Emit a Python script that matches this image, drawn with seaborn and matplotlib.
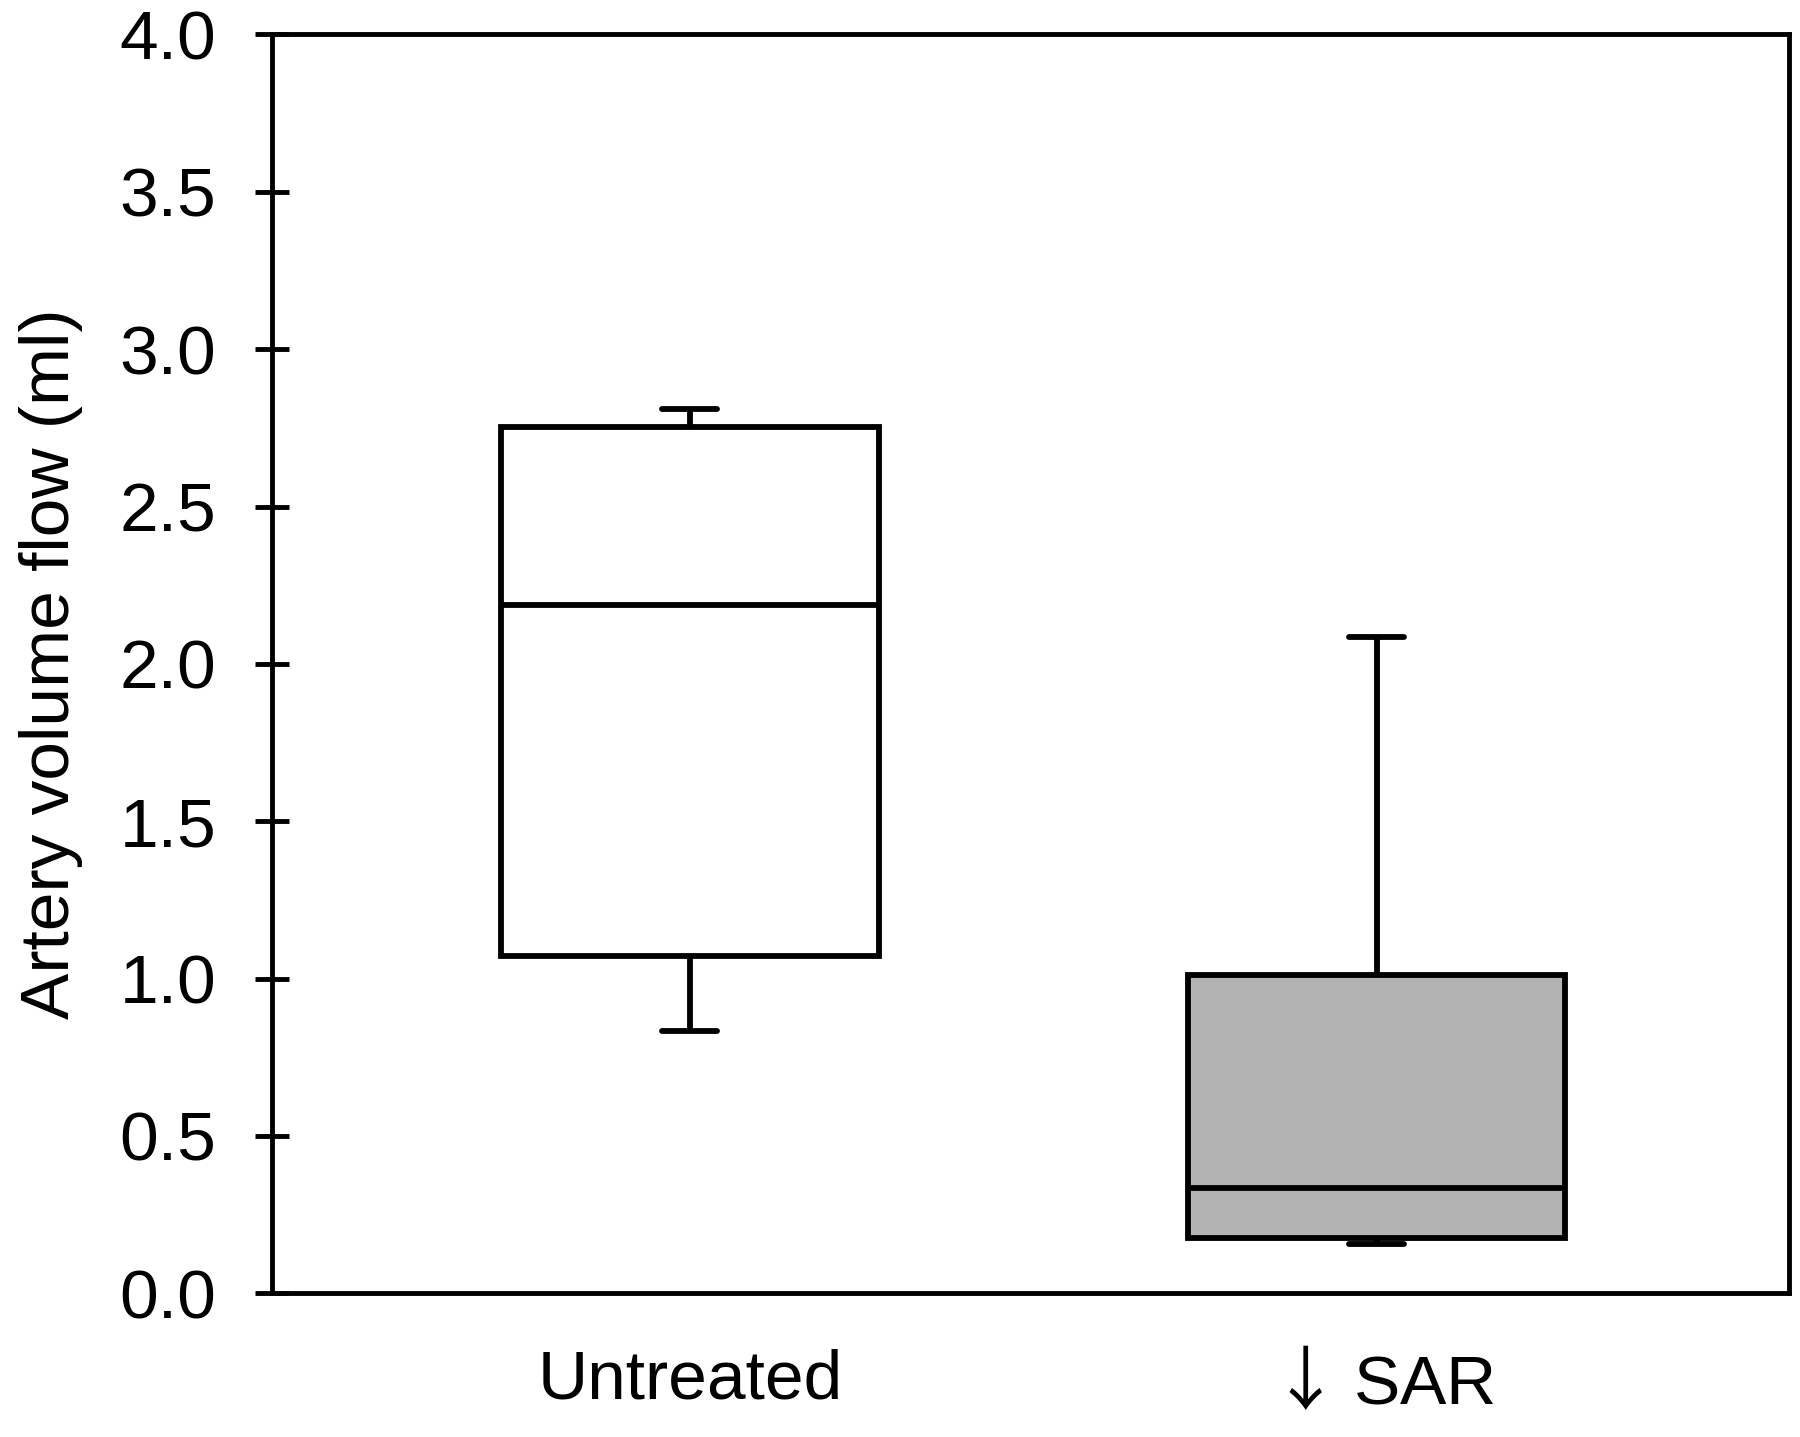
import numpy as np
import pandas as pd
import matplotlib
matplotlib.use("Agg")
import matplotlib.pyplot as plt
import seaborn as sns

# five-number summaries (min, q1, median, q3, max)
groups = ["Untreated", r"$\downarrow$SAR"]
untreated = [0.832, 1.073, 2.186, 2.752, 2.81]
sar = [0.157, 0.175, 0.336, 1.011, 2.084]
fill_colors = ["white", "#b3b3b3"]
yticks = [0.0, 0.5, 1.0, 1.5, 2.0, 2.5, 3.0, 3.5, 4.0]

df = pd.DataFrame({
    "group": [groups[0]] * len(untreated) + [groups[1]] * len(sar),
    "flow": untreated + sar,
})

sns.set_style("ticks")
plt.rcParams["font.family"] = ["Liberation Sans", "DejaVu Sans"]
plt.rcParams["text.color"] = "black"
plt.rcParams["axes.labelcolor"] = "black"
plt.rcParams["xtick.color"] = "black"
plt.rcParams["ytick.color"] = "black"
# tall arrow glyph for the SAR label
plt.rcParams["mathtext.fontset"] = "custom"
plt.rcParams["mathtext.rm"] = "Noto Sans CJK JP"
plt.rcParams["mathtext.it"] = "Noto Sans CJK JP"

fig = plt.figure(figsize=(18, 14.37), dpi=100)
ax = fig.add_axes([0.151, 0.100, 0.843, 0.876])

sns.boxplot(data=df, x="group", y="flow", hue="group", order=groups,
            palette=dict(zip(groups, fill_colors)), width=0.55,
            whis=(0, 100), linewidth=4.2, linecolor="black",
            capwidths=0.08, legend=False, ax=ax)

ax.set_xlim(-0.609, 1.601)
ax.set_ylim(0, 4.0)
ax.set_yticks(yticks)
ax.set_yticklabels([f"{t:.1f}" for t in yticks])
ax.set_xlabel("")
ax.set_ylabel("Artery volume flow (ml)", fontsize=50, labelpad=26)

for s in ax.spines.values():
    s.set_visible(True)
    s.set_linewidth(3.5)
    s.set_color("black")

ax.tick_params(axis="y", direction="inout", length=24, width=3.5,
               labelsize=50, pad=28)
ax.tick_params(axis="x", length=0, labelsize=50, pad=40)

fig.savefig("out.png", dpi=100, facecolor="white")
